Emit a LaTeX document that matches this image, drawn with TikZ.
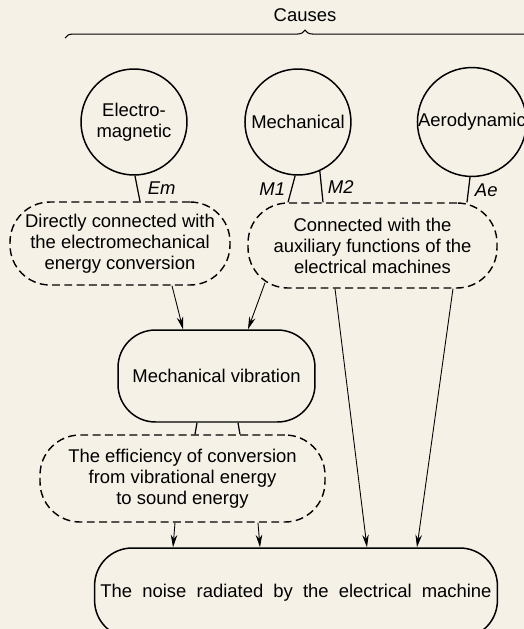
\documentclass[tikz,border=0pt]{standalone}
\usepackage{fontspec}
\setmainfont{Liberation Sans}
\usetikzlibrary{decorations.pathreplacing,arrows.meta}

\definecolor{paper}{RGB}{245,241,231}
\tikzstyle{cause} = [circle, minimum size=2.12cm, text centered, align=center, draw=black, line width=0.85pt, inner sep=0pt]
\tikzstyle{factor} = [rectangle, rounded corners=0.8cm, text centered, align=center, draw=black, line width=0.8pt, dash pattern=on 4.5pt off 2.5pt]
\tikzstyle{effect} = [rectangle, rounded corners=0.75cm, text centered, align=center, draw=black, line width=0.85pt]
\tikzstyle{link} = [line width=0.7pt]
\tikzstyle{arrow} = [line width=0.5pt,->,>={Stealth[length=2.5mm,width=1.3mm]}]
\tikzstyle{tag} = [font=\fontsize{10.5}{12}\itshape]

\begin{document}
\begin{tikzpicture}[x=0.02cm, y=-0.02cm, font=\fontsize{10.5}{12}\selectfont]
        \fill [paper] (0,0) rectangle (524,629);
        \useasboundingbox (0,0) rectangle (524,629);

        \node (causes) at (305,15) {Causes};
        \coordinate (bracel) at (65,38);
        \coordinate (bracer) at (545,38);
        \draw [line width=0.6pt, decorate, decoration={brace, amplitude=4.5pt}] (bracel) -- (bracer);

        \node (electro) [cause] at (134,122) {Electro-\\magnetic};
        \node (mechanic) [cause, right of=electro, node distance=3.28cm] {Mechanical};
        \node (aero) [cause, right of=mechanic, node distance=3.48cm] {Aerodynamic};

        \node (direct) [factor, minimum width=4.4cm, minimum height=1.66cm] at (120,243.5) {Directly connected with\\the electromechanical\\energy conversion};
        \node (auxiliary) [factor, minimum width=4.98cm, minimum height=1.7cm] at (372.5,245.5) {Connected with the\\auxiliary functions of the\\electrical machines};
        \node (vibration) [effect, minimum width=3.94cm, minimum height=1.84cm] at (216.5,376) {Mechanical vibration};
        \node (efficiency) [factor, minimum width=5.7cm, minimum height=1.74cm] at (182.5,478.5) {The efficiency of conversion\\from vibrational energy\\to sound energy};
        \node (noise) [effect, minimum width=8.04cm, minimum height=1.8cm] at (296,593) {\spaceskip=0.55em The noise radiated by the electrical machine};

        \draw [link] (electro.-89) -- node [tag, right, xshift=0.08cm] {Em} ([xshift=0.4cm]direct.north);
        \draw [link] (mechanic.-93) -- node [tag, left] {M1} ([xshift=-1.69cm]auxiliary.north);
        \draw [link] (mechanic.-66) -- node [tag, right] {M2} ([xshift=-0.99cm]auxiliary.north);
        \draw [link] (aero.-92) -- node [tag, right] {Ae} ([xshift=1.89cm]auxiliary.north);

        \draw [arrow] ([xshift=1.04cm]direct.south) -- ([xshift=-0.67cm]vibration.north);
        \draw [arrow] ([xshift=-2.15cm, yshift=0.12cm]auxiliary.south) -- ([xshift=0.63cm]vibration.north);
        \draw [arrow] ([xshift=-0.75cm]auxiliary.south) -- ([xshift=1.42cm]noise.north);
        \draw [arrow] ([xshift=1.61cm]auxiliary.south) -- ([xshift=2.42cm]noise.north);

        \draw [link] ([xshift=-0.39cm]vibration.south) -- ([xshift=0.25cm]efficiency.north);
        \draw [link] ([xshift=0.43cm]vibration.south) -- ([xshift=1.15cm]efficiency.north);

        \draw [arrow] ([xshift=-0.15cm]efficiency.south) -- ([xshift=-2.46cm]noise.north);
        \draw [arrow] ([xshift=1.51cm]efficiency.south) -- ([xshift=-0.72cm]noise.north);
    \end{tikzpicture}
\end{document}
